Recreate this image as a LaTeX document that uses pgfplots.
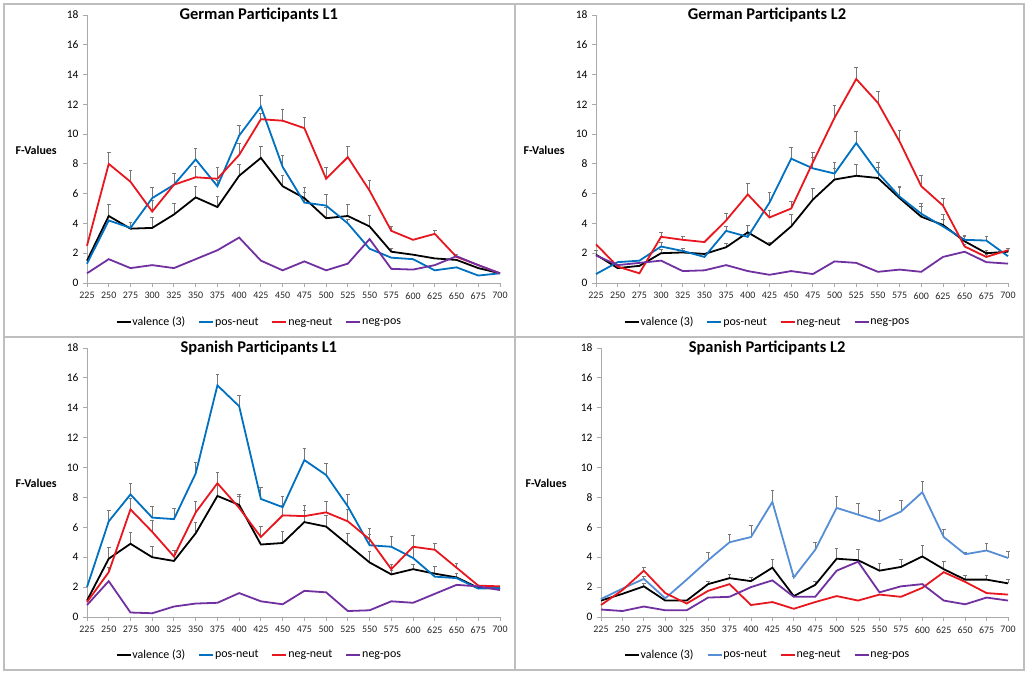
\documentclass[border=0pt]{standalone}
\usepackage{pgfplots}
\usepackage{pgfplotstable}
\pgfplotsset{compat=1.18}
\usepackage{fontspec}
\setmainfont{Carlito}

\definecolor{cblue}{RGB}{0,112,192}
\definecolor{clblue}{RGB}{85,142,213}
\definecolor{cred}{RGB}{232,22,30}
\definecolor{cpurple}{RGB}{112,48,160}
\definecolor{cgrid}{RGB}{190,190,190}
\definecolor{caxis}{RGB}{170,170,170}
\definecolor{cerr}{RGB}{120,120,120}

% t = time (ms); v = valence(3); p = pos-neut; n = neg-neut; q = neg-pos; e* = upper error
\pgfplotstableread{
t   v    ev   p     ep   n     en   q
225 1.5  0    1.3   0    2.5   0    0.65
250 4.5  0.75 4.2   0    8.0   0.8  1.6
275 3.65 0    3.7   0.4  6.8   0.75 1.0
300 3.7  0.7  5.7   0.7  4.8   0.75 1.2
325 4.6  0.75 6.6   0.75 6.6   0.75 1.0
350 5.75 0.75 8.3   0.75 7.1   0.75 1.6
375 5.1  0.7  6.5   0.4  7.0   0.75 2.2
400 7.2  0.75 9.9   0.7  8.6   0.75 3.05
425 8.4  0.75 11.85 0.75 11.0  0.4  1.5
450 6.5  0.7  7.8   0.75 10.9  0.75 0.85
475 5.7  0.7  5.4   0.7  10.4  0.75 1.45
500 4.35 0.7  5.2   0.75 7.0   0.75 0.85
525 4.5  0.75 4.0   0.3  8.45  0.75 1.3
550 3.8  0.75 2.3   0    6.2   0.7  2.95
575 2.1  0.25 1.7   0    3.5   0.3  0.95
600 1.9  0    1.6   0    2.9   0    0.9
625 1.65 0    0.85  0    3.3   0.25 1.2
650 1.55 0    1.05  0    1.75  0.15 1.8
675 1.0  0    0.5   0    1.2   0    1.2
700 0.65 0    0.65  0    0.65  0    0.65
}\gerLone

\pgfplotstableread{
t   v    ev   p     ep   n     en   q
225 1.9  0.3  0.6   0    2.6   0    1.85
250 1.0  0    1.4   0    1.1   0    1.2
275 1.15 0    1.5   0    0.65  0    1.35
300 2.0  0.25 2.45  0.3  3.1   0.3  1.5
325 2.05 0.15 2.15  0.15 2.9   0.25 0.8
350 1.95 0    1.75  0    2.75  0    0.85
375 2.4  0.25 3.5   0.3  4.2   0.5  1.2
400 3.4  0.5  3.1   0.3  5.95  0.75 0.8
425 2.55 0.2  5.4   0.7  4.4   0.5  0.55
450 3.8  0.8  8.35  0.75 5.0   0.5  0.8
475 5.6  0.75 7.7   0.75 8.1   0.7  0.6
500 6.95 0.75 7.35  0.75 11.1  0.8  1.45
525 7.2  0.75 9.4   0.75 13.7  0.75 1.35
550 7.05 0.7  7.4   0.7  12.1  0.75 0.75
575 5.7  0.7  5.8   0.7  9.5   0.75 0.9
600 4.45 0.7  4.65  0.7  6.5   0.75 0.75
625 3.9  0.7  3.8   0.5  5.2   0.5  1.75
650 2.8  0.3  2.9   0.3  2.45  0.15 2.1
675 2.0  0.2  2.85  0.25 1.75  0.15 1.4
700 2.1  0.2  1.8   0    2.2   0.15 1.3
}\gerLtwo

\pgfplotstableread{
t   v    ev   p     ep   n     en   q
225 1.1  0    2.0   0    1.0   0    0.8
250 3.9  0.75 6.4   0.7  3.0   0.3  2.4
275 4.9  0.75 8.2   0.75 7.2   0.75 0.3
300 4.0  0.75 6.65  0.75 5.7   0.75 0.25
325 3.75 0.7  6.55  0.7  4.05  0.4  0.7
350 5.6  0.75 9.6   0.75 7.0   0.75 0.9
375 8.1  0.75 15.5  0.75 8.95  0.75 0.95
400 7.5  0.7  14.1  0.75 7.3   0.75 1.6
425 4.85 0    7.9   0.75 5.35  0.7  1.05
450 4.95 0.75 7.35  0.75 6.8   0.7  0.85
475 6.35 0.75 10.5  0.75 6.75  0.75 1.75
500 6.05 0.75 9.5   0.75 7.0   0.75 1.65
525 4.85 0.75 7.4   0.8  6.4   0.8  0.4
550 3.65 0.75 4.8   0.7  5.2   0.75 0.45
575 2.85 0.3  4.7   0.7  3.2   0.3  1.05
600 3.2  0.3  3.95  0.7  4.7   0.75 0.95
625 2.9  0.5  2.7   0    4.5   0.45 1.55
650 2.65 0.3  2.6   0    3.3   0.3  2.15
675 1.95 0    1.9   0    2.1   0    2.05
700 1.9  0    1.95  0    2.05  0    1.8
}\spaLone

\pgfplotstableread{
t   v    ev   p     ep   n     en   q
225 1.1  0    1.2   0    0.8   0    0.5
250 1.55 0    1.9   0    1.8   0    0.4
275 2.05 0.2  2.55  0.15 3.1   0.2  0.7
300 1.1  0    1.25  0    1.6   0    0.45
325 1.1  0    2.5   0    0.9   0    0.45
350 2.2  0.2  3.8   0.5  1.75  0    1.3
375 2.6  0.25 5.0   0.5  2.2   0    1.35
400 2.4  0.25 5.35  0.75 0.8   0    2.0
425 3.3  0.55 7.7   0.75 1.0   0    2.45
450 1.4  0    2.65  0.05 0.55  0    1.35
475 2.15 0.25 4.5   0.5  1.0   0    1.35
500 3.9  0.7  7.3   0.75 1.4   0    3.1
525 3.8  0.75 6.85  0.75 1.1   0    3.7
550 3.1  0.5  6.4   0.7  1.5   0    1.65
575 3.35 0.5  7.05  0.75 1.35  0    2.05
600 4.05 0.75 8.35  0.75 1.95  0    2.2
625 3.2  0.5  5.35  0.5  3.0   0    1.1
650 2.5  0.25 4.2   0.15 2.35  0    0.85
675 2.5  0.25 4.45  0.5  1.6   0    1.3
700 2.25 0.25 3.95  0.45 1.5   0    1.1
}\spaLtwo

\pgfplotsset{
  panel/.style={
    scale only axis,
    height=268bp,
    xmin=225, xmax=700, ymin=0, ymax=18,
    xtick={225,250,...,700}, ytick={0,2,...,18},
    axis lines*=left,
    axis line style={draw=caxis, line width=0.9bp},
    tick style={draw=caxis, line width=0.9bp},
    major tick length=4bp,
    tick align=outside,
    /pgf/number format/assume math mode=true,
    xticklabel style={font=\fontsize{10}{11}\selectfont, text=black!85, yshift=-2bp},
    yticklabel style={font=\fontsize{11.5}{13}\selectfont, text=black, xshift=-1bp},
    title style={font=\bfseries\fontsize{16.5}{19}\selectfont, anchor=center},
    every axis y label/.style={anchor=center, font=\bfseries\fontsize{12}{14}\selectfont},
    ylabel={F-Values},
    legend style={draw=none, fill=none, legend columns=4, anchor=center,
      font=\fontsize{12}{14}\selectfont,
      /tikz/every even column/.append style={column sep=12bp},
      nodes={inner xsep=1bp}},
    legend image code/.code={\draw[##1, line width=1.8bp] (0bp,0bp) -- (14bp,0bp);},
    clip=false,
  },
  ln/.style={line width=1.8bp, mark=none},
  eb/.style={draw=none, mark=none, forget plot,
    restrict expr to domain={\thisrow{#1}}{0.01:100},
    error bars/.cd, y dir=plus, y explicit,
    error bar style={draw=cerr, line width=0.8bp},
    error mark options={rotate=90, mark size=1.8bp, line width=0.8bp, draw=cerr}},
}

\newcommand{\panelplots}[2]{%
  \addplot[eb=ev] table[x=t, y=v, y error=ev] {#1};
  \addplot[eb=ep] table[x=t, y=p, y error=ep] {#1};
  \addplot[eb=en] table[x=t, y=n, y error=en] {#1};
  \addplot[ln, black]   table[x=t, y=v] {#1};
  \addplot[ln, #2]      table[x=t, y=p] {#1};
  \addplot[ln, cred]    table[x=t, y=n] {#1};
  \addplot[ln, cpurple] table[x=t, y=q] {#1};
  \legend{valence (3), pos-neut, neg-neut, neg-pos}
}

\begin{document}
\begin{tikzpicture}[x=1bp, y=1bp]
\useasboundingbox (0,0) rectangle (1028,674);
\draw[cgrid, line width=1.5bp] (4,4) rectangle (1024,670);
\draw[cgrid, line width=1.5bp] (515,4) -- (515,670);
\draw[cgrid, line width=1.5bp] (4,337) -- (1024,337);

\begin{axis}[panel, width=413bp, at={(87bp,391bp)}, anchor=south west,
  title={German Participants L1}, title style={at={(0.416,0.978)}},
  every axis y label/.append style={at={(-0.123,0.496)}},
  legend style={at={(0.416,-0.146)}}]
\panelplots{\gerLone}{cblue}
\end{axis}

\begin{axis}[panel, width=412bp, at={(596bp,391bp)}, anchor=south west,
  title={German Participants L2}, title style={at={(0.415,0.978)}},
  every axis y label/.append style={at={(-0.126,0.496)}},
  legend style={at={(0.415,-0.146)}}]
\panelplots{\gerLtwo}{cblue}
\end{axis}

\begin{axis}[panel, width=413bp, height=269bp, at={(87bp,57bp)}, anchor=south west,
  title={Spanish Participants L1}, title style={at={(0.416,0.978)}},
  every axis y label/.append style={at={(-0.123,0.498)}},
  legend style={at={(0.416,-0.141)}}]
\panelplots{\spaLone}{cblue}
\end{axis}

\begin{axis}[panel, width=407bp, height=269bp, at={(601bp,57bp)}, anchor=south west,
  title={Spanish Participants L2}, title style={at={(0.408,0.978)}},
  every axis y label/.append style={at={(-0.135,0.498)}},
  legend style={at={(0.408,-0.141)}}]
\panelplots{\spaLtwo}{clblue}
\end{axis}
\end{tikzpicture}
\end{document}
